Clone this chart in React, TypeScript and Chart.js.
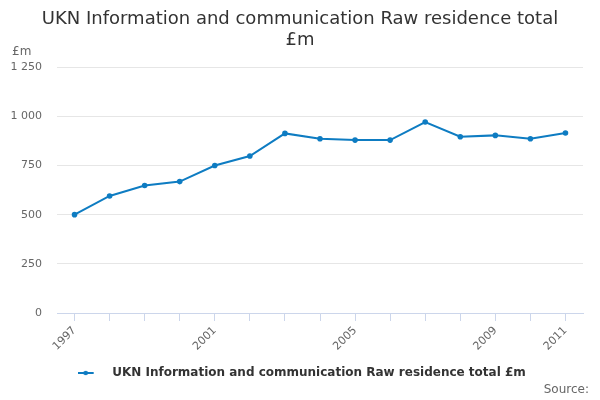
import React, { useEffect, useRef } from 'react';
import { Chart, registerables } from 'chart.js';

Chart.register(...registerables);

const years = ['1997', '1998', '1999', '2000', '2001', '2002', '2003', '2004', '2005', '2006', '2007', '2008', '2009', '2010', '2011'];
const residenceTotal = [500, 595, 648, 668, 750, 798, 913, 886, 879, 879, 971, 896, 903, 886, 915];
const shownYearLabels = ['1997', '2001', '2005', '2009', '2011'];

const seriesName = 'UKN Information and communication Raw residence total £m';
const lineColor = '#0e7cc2';
const fontFamily = '"DejaVu Sans", sans-serif';

// legend symbol: a short line with a dot, drawn in the left part of the canvas
const makeLegendSymbol = () => {
    const c = document.createElement('canvas');
    c.width = 25;
    c.height = 6;
    const g = c.getContext('2d');
    if (g) {
        g.strokeStyle = lineColor;
        g.lineWidth = 2;
        g.beginPath();
        g.moveTo(0, 3);
        g.lineTo(16, 3);
        g.stroke();
        g.fillStyle = lineColor;
        g.beginPath();
        g.arc(8, 3, 2.3, 0, Math.PI * 2);
        g.fill();
    }
    return c;
};

const extraText = {
    id: 'extraText',
    afterDraw(chart: any) {
        const ctx = chart.ctx;
        ctx.save();
        ctx.fillStyle = '#666666';
        ctx.font = `12px ${fontFamily}`;
        ctx.textBaseline = 'middle';
        ctx.textAlign = 'left';
        ctx.fillText('£m', 12, 52);
        ctx.textAlign = 'right';
        ctx.fillText('Source:', 589, 390);
        ctx.restore();
    },
};

const App: React.FC = () => {
    const chartRef = useRef<HTMLCanvasElement | null>(null);

    useEffect(() => {
        document.body.style.margin = '0';
        if (!chartRef.current) return;
        const ctx = chartRef.current.getContext('2d');
        if (!ctx) return;
        const symbol = makeLegendSymbol();

        const myChart = new Chart(ctx, {
            type: 'line',
            data: {
                labels: years,
                datasets: [
                    {
                        label: seriesName,
                        data: residenceTotal,
                        borderColor: lineColor,
                        backgroundColor: lineColor,
                        borderWidth: 2,
                        pointRadius: 1.8,
                        pointHoverRadius: 3,
                        tension: 0,
                    },
                ],
            },
            options: {
                responsive: true,
                maintainAspectRatio: false,
                animation: false,
                layout: { padding: { left: 0, right: 0, top: 0, bottom: 11 } },
                scales: {
                    x: {
                        offset: true,
                        afterFit: (scale: any) => {
                            scale.height = 44;
                        },
                        grid: {
                            offset: false,
                            drawOnChartArea: false,
                            drawTicks: true,
                            tickLength: 8,
                            color: '#ccd6eb',
                        },
                        border: { color: '#ccd6eb' },
                        ticks: {
                            autoSkip: false,
                            maxRotation: 45,
                            minRotation: 45,
                            color: '#666666',
                            font: { family: fontFamily, size: 11 },
                            callback: function (_v: any, i: number) {
                                const y = years[i];
                                return shownYearLabels.includes(y) ? y : '';
                            },
                        },
                    },
                    y: {
                        min: 0,
                        max: 1250,
                        afterFit: (scale: any) => {
                            scale.width = 57;
                        },
                        grid: { color: '#e6e6e6', drawTicks: false },
                        border: { display: false },
                        ticks: {
                            stepSize: 250,
                            padding: 15,
                            color: '#666666',
                            font: { family: fontFamily, size: 11 },
                            callback: (v: any) => String(v).replace(/\B(?=(\d{3})+(?!\d))/g, ' '),
                        },
                    },
                    // empty right-hand spacer so the title and legend stay centred on the page
                    spacer: {
                        type: 'linear',
                        position: 'right',
                        display: true,
                        afterFit: (scale: any) => {
                            scale.width = 17;
                        },
                        grid: { display: false, drawTicks: false },
                        border: { display: false },
                        ticks: { display: false },
                    },
                },
                plugins: {
                    title: {
                        display: true,
                        text: ['UKN Information and communication Raw residence total', '£m'],
                        color: '#333333',
                        font: { family: fontFamily, size: 18, weight: 'normal', lineHeight: 1.17 },
                        padding: { top: 9, bottom: 16 },
                    },
                    legend: {
                        position: 'bottom',
                        labels: {
                            usePointStyle: true,
                            pointStyleWidth: 32,
                            color: '#333333',
                            font: { family: fontFamily, size: 12, weight: 'bold' },
                            padding: 10,
                            generateLabels: (chart: any) =>
                                chart.data.datasets.map((ds: any, i: number) => ({
                                    text: ds.label,
                                    fillStyle: lineColor,
                                    strokeStyle: lineColor,
                                    fontColor: '#333333',
                                    pointStyle: symbol,
                                    hidden: !chart.isDatasetVisible(i),
                                    datasetIndex: i,
                                })),
                        },
                    },
                    tooltip: { enabled: false },
                },
            },
            plugins: [extraText],
        });

        return () => {
            myChart.destroy();
        };
    }, []);

    return (
        <div style={{ width: 600, height: 400, position: 'relative' }}>
            <canvas ref={chartRef} />
        </div>
    );
};

export default App;
